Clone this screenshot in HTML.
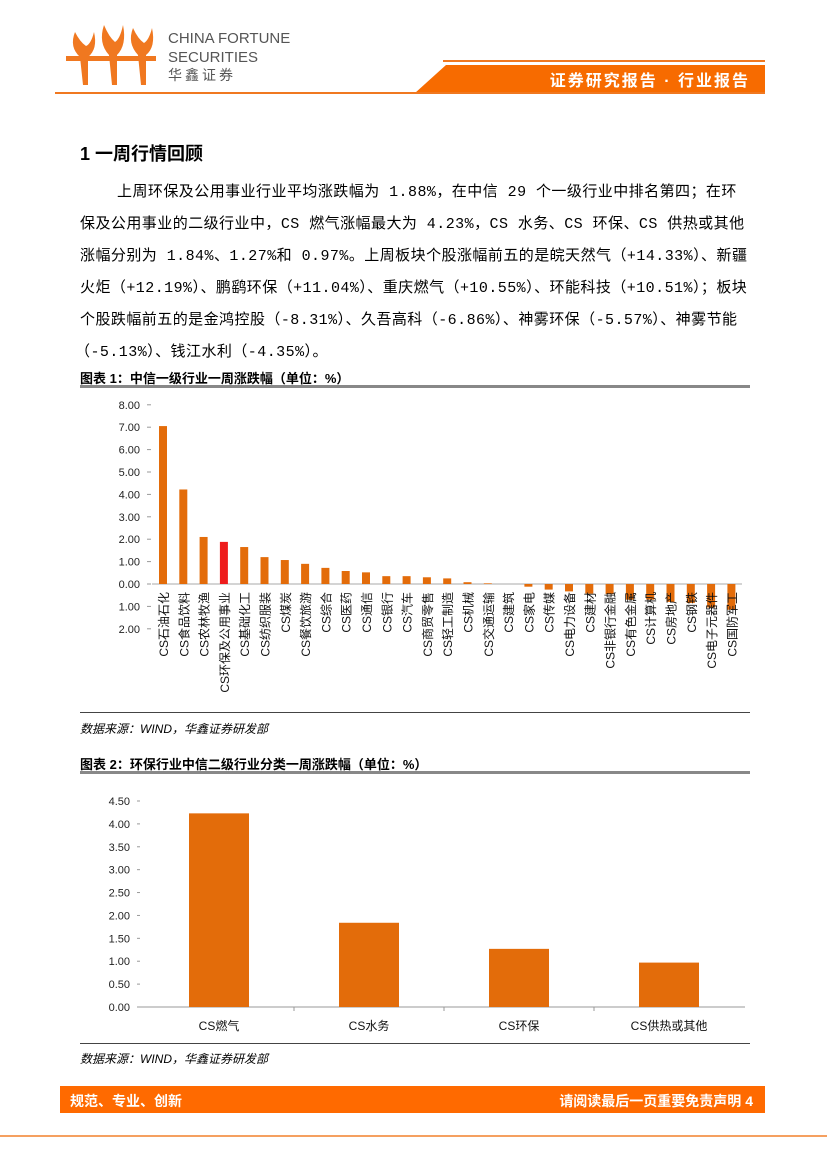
<!DOCTYPE html>
<html><head><meta charset="utf-8">
<style>
body{margin:0;background:#fff;}
#page{position:relative;width:827px;height:1169px;overflow:hidden;background:#fff;font-family:"Liberation Sans","Noto Sans CJK SC",sans-serif;color:#000;}
.abs{position:absolute;}
.body-line{position:absolute;left:80px;font-size:15px;white-space:nowrap;font-family:"Liberation Mono","Noto Sans CJK SC",sans-serif;letter-spacing:0.45px;}
.cap{position:absolute;left:80px;font-size:13px;font-weight:bold;}
.src{position:absolute;left:80px;font-size:12px;font-style:italic;}
svg text{font-family:"Liberation Sans","Noto Sans CJK SC",sans-serif;}
</style></head><body>
<div id="page">

<svg class="abs" style="left:0;top:0" width="827" height="110">
  <g fill="#f07820">
    <path d="M75,32 q-6,15 5,25 l3,28 l5,0 l0,-28 q10,-8 6,-25 q-3,12 -8,14 q-6,-4 -11,-14z"/>
    <path d="M104,25 q-6,18 5,30 l3,30 l5,0 l0,-30 q10,-10 6,-30 q-3,14 -8,17 q-6,-5 -11,-17z"/>
    <path d="M133,28 q-6,15 5,27 l3,30 l5,0 l0,-30 q10,-8 6,-27 q-3,12 -8,15 q-6,-4 -11,-15z"/>
    <rect x="66" y="56" width="90" height="5"/>
  </g>
  <text x="168" y="43" font-size="15" fill="#555">CHINA FORTUNE</text>
  <text x="168" y="62" font-size="15" fill="#555">SECURITIES</text>
  <text x="168" y="80" font-size="14" fill="#555" letter-spacing="3">华鑫证券</text>
  <line x1="443" y1="61" x2="765" y2="61" stroke="#f07820" stroke-width="2"/>
  <polygon points="415,93 446,65 765,65 765,93" fill="#f76b00"/>
  <line x1="55" y1="93" x2="765" y2="93" stroke="#f07820" stroke-width="2"/>
  <text x="750" y="86" font-size="16" font-weight="bold" fill="#fff" text-anchor="end" letter-spacing="2">证券研究报告 · 行业报告</text>
</svg>

<div class="abs" style="left:80px;top:140px;font-size:18px;font-weight:bold;">1 一周行情回顾</div>
<div class="body-line" style="top:180px;left:117px">上周环保及公用事业行业平均涨跌幅为 1.88%，在中信 29 个一级行业中排名第四；在环</div>
<div class="body-line" style="top:212px">保及公用事业的二级行业中，CS 燃气涨幅最大为 4.23%，CS 水务、CS 环保、CS 供热或其他</div>
<div class="body-line" style="top:244px">涨幅分别为 1.84%、1.27%和 0.97%。上周板块个股涨幅前五的是皖天然气（+14.33%）、新疆</div>
<div class="body-line" style="top:276px">火炬（+12.19%）、鹏鹞环保（+11.04%）、重庆燃气（+10.55%）、环能科技（+10.51%）；板块</div>
<div class="body-line" style="top:308px">个股跌幅前五的是金鸿控股（-8.31%）、久吾高科（-6.86%）、神雾环保（-5.57%）、神雾节能</div>
<div class="body-line" style="top:340px;left:75px">（-5.13%）、钱江水利（-4.35%）。</div>

<div class="cap" style="top:368px">图表 1：中信一级行业一周涨跌幅（单位：%）</div>
<div class="abs" style="left:80px;top:385px;width:670px;height:3px;background:#888"></div>
<div class="abs" style="left:80px;top:712px;width:670px;height:1px;background:#444"></div>
<div class="src" style="top:720px">数据来源：WIND，华鑫证券研发部</div>
<svg id="c1" class="abs" style="left:0;top:0" width="827" height="720"></svg>

<div class="cap" style="top:754px">图表 2：环保行业中信二级行业分类一周涨跌幅（单位：%）</div>
<div class="abs" style="left:80px;top:771px;width:670px;height:3px;background:#888"></div>
<div class="abs" style="left:80px;top:1043px;width:670px;height:1px;background:#444"></div>
<div class="src" style="top:1050px">数据来源：WIND，华鑫证券研发部</div>
<svg id="c2" class="abs" style="left:0;top:0" width="827" height="1045"></svg>

<div class="abs" style="left:60px;top:1086px;width:705px;height:27px;background:#ff6a00">
  <span class="abs" style="left:10px;top:5px;color:#fff;font-weight:bold;font-size:14px">规范、专业、创新</span>
  <span class="abs" style="right:12px;top:5px;color:#fff;font-weight:bold;font-size:14px">请阅读最后一页重要免责声明 4</span>
</div>
<div class="abs" style="left:0;top:1135px;width:827px;height:2px;background:#f5a060"></div>
</div>

<script>
const NS='http://www.w3.org/2000/svg';
const c1Categories=['CS石油石化','CS食品饮料','CS农林牧渔','CS环保及公用事业','CS基础化工','CS纺织服装','CS煤炭','CS餐饮旅游','CS综合','CS医药','CS通信','CS银行','CS汽车','CS商贸零售','CS轻工制造','CS机械','CS交通运输','CS建筑','CS家电','CS传媒','CS电力设备','CS建材','CS非银行金融','CS有色金属','CS计算机','CS房地产','CS钢铁','CS电子元器件','CS国防军工'];
const c1Values=[7.05,4.22,2.1,1.88,1.65,1.2,1.07,0.9,0.72,0.58,0.52,0.35,0.35,0.3,0.25,0.08,0.03,0,-0.12,-0.25,-0.33,-0.43,-0.45,-0.7,-0.7,-0.8,-0.85,-1.05,-1.15];
const c1Highlight='CS环保及公用事业';
const c1Ticks=['8.00','7.00','6.00','5.00','4.00','3.00','2.00','1.00','0.00','1.00','2.00'];
const c1TickVals=[8,7,6,5,4,3,2,1,0,-1,-2];
const c2Categories=['CS燃气','CS水务','CS环保','CS供热或其他'];
const c2Values=[4.23,1.84,1.27,0.97];
const c2Ticks=['4.50','4.00','3.50','3.00','2.50','2.00','1.50','1.00','0.50','0.00'];
const c2TickVals=[4.5,4,3.5,3,2.5,2,1.5,1,0.5,0];

function mk(tag,attrs,parent){const e=document.createElementNS(NS,tag);for(const k in attrs)e.setAttribute(k,attrs[k]);parent.appendChild(e);return e;}

(function(){
  const s=document.getElementById('c1');
  const y=v=>584-v*22.4;
  const x=i=>163+i*20.3;
  c1TickVals.forEach((v,i)=>{
    const t=mk('text',{x:140,y:y(v)+4,'font-size':11,'text-anchor':'end',fill:'#222'},s);
    
    
    t.textContent=c1Ticks[i];
    mk('line',{x1:147,x2:151,y1:y(v),y2:y(v),stroke:'#999'},s);
  });
  mk('line',{x1:152,x2:742,y1:y(0),y2:y(0),stroke:'#aaa'},s);
  c1Values.forEach((v,i)=>{
    const r=mk('rect',{x:x(i)-4,width:8,y:Math.min(y(v),y(0)),height:Math.abs(y(v)-y(0)),fill:c1Categories[i]===c1Highlight?'#ee1c1c':'#e36c0a'},s);
    
    
    const t=mk('text',{transform:`translate(${x(i)+5},592) rotate(-90)`,'font-size':12,'text-anchor':'end',fill:'#111'},s);
    
    
    t.textContent=c1Categories[i];
  });
})();

(function(){
  const s=document.getElementById('c2');
  const y=v=>1007-v*(206/4.5);
  const x=i=>219+i*150;
  c2TickVals.forEach((v,i)=>{
    const t=mk('text',{x:130,y:y(v)+4,'font-size':11,'text-anchor':'end',fill:'#222'},s);
    
    
    t.textContent=c2Ticks[i];
    mk('line',{x1:137,x2:140,y1:y(v),y2:y(v),stroke:'#999'},s);
  });
  mk('line',{x1:140,x2:745,y1:y(0),y2:y(0),stroke:'#999'},s);
  for(let k=1;k<c2Categories.length;k++){const bx=(x(k-1)+x(k))/2;mk('line',{x1:bx,x2:bx,y1:y(0),y2:y(0)+4,stroke:'#999'},s);}
  c2Values.forEach((v,i)=>{
    const r=mk('rect',{x:x(i)-30,width:60,y:y(v),height:y(0)-y(v),fill:'#e36c0a'},s);
    
    
    const t=mk('text',{x:x(i),y:1030,'font-size':12,'text-anchor':'middle',fill:'#111'},s);
    
    
    t.textContent=c2Categories[i];
  });
})();
</script>
</body></html>
